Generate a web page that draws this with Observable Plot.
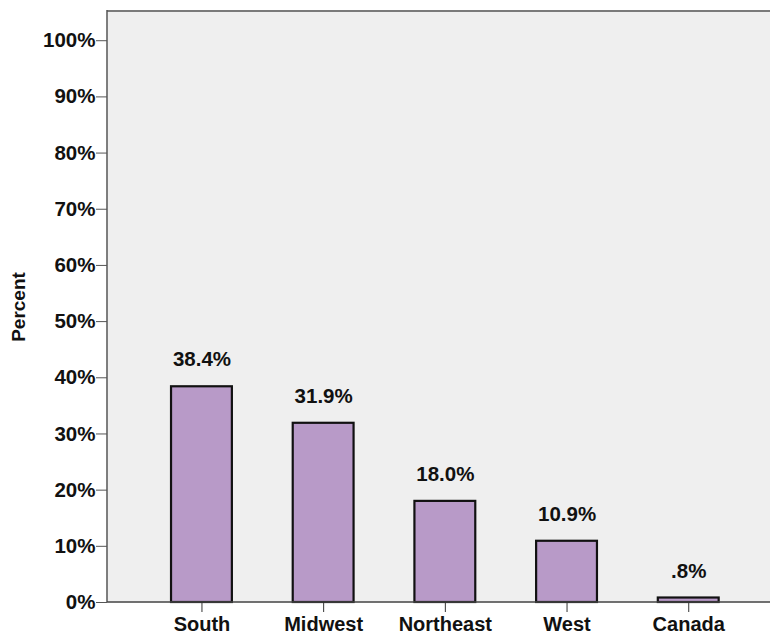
<!DOCTYPE html>
<html>
<head>
<meta charset="utf-8">
<script src="https://cdn.jsdelivr.net/npm/d3@7"></script>
<script src="https://cdn.jsdelivr.net/npm/@observablehq/plot@0.6"></script>
<style>
  html, body { margin: 0; padding: 0; background: #fff; }
  #chart svg { display: block; }
</style>
</head>
<body>
<div id="chart"></div>
<script>
const regions = ["South", "Midwest", "Northeast", "West", "Canada"];
const percents = [38.4, 31.9, 18.0, 10.9, 0.8];
const valueLabels = ["38.4%", "31.9%", "18.0%", "10.9%", ".8%"];
const yTicks = [0, 10, 20, 30, 40, 50, 60, 70, 80, 90, 100];

const data = regions.map((r, i) => ({region: r, pct: percents[i], label: valueLabels[i]}));

const FONT = "'Liberation Sans', Arial, sans-serif";

const borderMark = (index, scales, values, dims) => {
  const g = d3.create("svg:g");
  const x0 = dims.marginLeft;
  const y0 = dims.marginTop;
  const x1 = dims.width - dims.marginRight;
  const yb = dims.height - dims.marginBottom;
  g.append("line").attr("x1", x0).attr("x2", x1 + 5).attr("y1", y0).attr("y2", y0)
    .attr("stroke", "#7a7a7a").attr("stroke-width", 2);
  g.append("line").attr("x1", x0).attr("x2", x0).attr("y1", y0 - 1).attr("y2", yb)
    .attr("stroke", "#555").attr("stroke-width", 1.5);
  g.append("line").attr("x1", x0).attr("x2", x1 + 5).attr("y1", yb).attr("y2", yb)
    .attr("stroke", "#444").attr("stroke-width", 1.5);
  return g.node();
};

const chart = Plot.plot({
  width: 770,
  height: 637,
  marginLeft: 107,
  marginRight: 0,
  marginTop: 11,
  marginBottom: 35,
  style: {fontFamily: FONT, fontSize: "20px", fontWeight: "bold", color: "#111", background: "#fff"},
  x: {domain: regions, paddingInner: 0.5, paddingOuter: 0.474, align: 0.555, round: false, label: null},
  y: {domain: [0, 105.2], label: null},
  marks: [
    Plot.frame({fill: "#efefef", stroke: "none"}),
    Plot.barY(data, {x: "region", y: "pct", fill: "#b89ac8", stroke: "#111", strokeWidth: 2.2}),
    Plot.text(data, {x: "region", y: "pct", text: "label", dy: -27, lineAnchor: "middle", fill: "#111", fontSize: 20.5}),
    borderMark,
    Plot.axisY(yTicks, {tickSize: 11, tickPadding: 1, tickFormat: d => d + "%", stroke: "#555", fill: "#111", fontSize: 20.5, label: null}),
    Plot.axisX({tickSize: 10, tickPadding: 4, stroke: "#333", fill: "#111", fontSize: 20, label: null}),
    Plot.text(["Percent"], {frameAnchor: "left", textAnchor: "middle", dx: -89, rotate: -90, fontSize: 19, fill: "#111"})
  ]
});
document.getElementById("chart").appendChild(chart);
</script>
</body>
</html>
